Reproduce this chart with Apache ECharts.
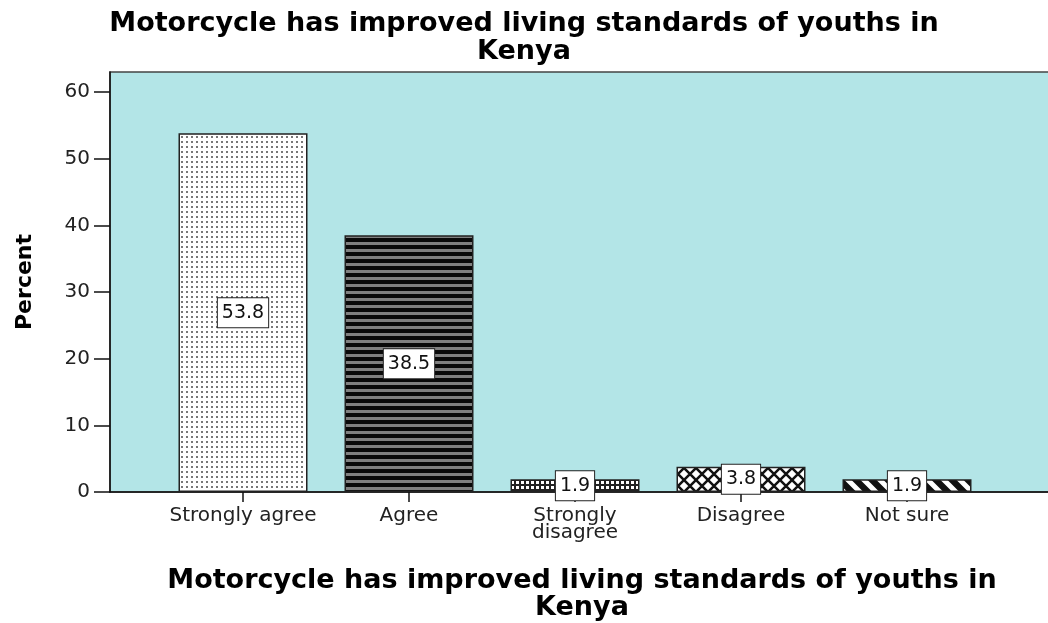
<!DOCTYPE html>
<html>
<head>
<meta charset="utf-8">
<script src="https://cdn.jsdelivr.net/npm/echarts@6/dist/echarts.min.js"></script>
<style>html,body{margin:0;padding:0;background:#fff}#c{width:1048px;height:623px}</style>
</head>
<body>
<div id="c"></div>
<script>
const titleText = 'Motorcycle has improved living standards of youths in\nKenya';
const categories = ['Strongly agree', 'Agree', 'Strongly\ndisagree', 'Disagree', 'Not sure'];
const percents = [53.8, 38.5, 1.9, 3.8, 1.9];
const yTicks = [0, 10, 20, 30, 40, 50, 60];
const yMax = 63;

function pat(w, h, draw) {
  const c = document.createElement('canvas');
  c.width = w; c.height = h;
  const ctx = c.getContext('2d');
  draw(ctx, w, h);
  return { image: c, repeat: 'repeat' };
}
const patterns = [
  pat(5, 5, (x) => { x.fillStyle = '#fff'; x.fillRect(0,0,5,5); x.fillStyle = '#777'; x.fillRect(1,1,2,2); }),
  pat(1, 7, (x) => { x.fillStyle = '#0a0a0a'; x.fillRect(0,0,1,7); x.fillStyle = '#808080'; x.fillRect(0,4,1,3); }),
  pat(5, 5, (x) => { x.fillStyle = '#222'; x.fillRect(0,0,5,5); x.fillStyle = '#fff'; x.fillRect(1,1,3,3); }),
  pat(12, 12, (x) => { x.fillStyle = '#fff'; x.fillRect(0,0,12,12); x.strokeStyle = '#111'; x.lineWidth = 2.5;
    x.beginPath(); x.moveTo(-2,-2); x.lineTo(14,14); x.moveTo(14,-2); x.lineTo(-2,14); x.stroke(); }),
  pat(16, 16, (x) => { x.fillStyle = '#111'; x.fillRect(0,0,16,16); x.strokeStyle = '#fff'; x.lineWidth = 5;
    x.beginPath(); x.moveTo(-4,-4); x.lineTo(20,20); x.moveTo(-20,-4); x.lineTo(4,20); x.moveTo(12,-4); x.lineTo(36,20); x.stroke(); })
];

const FONT = 'DejaVu Sans';
const chart = echarts.init(document.getElementById('c'), null, { renderer: 'canvas' });
chart.setOption({
  animation: false,
  title: {
    text: titleText, left: 'center', top: 5,
    textStyle: { fontFamily: FONT, fontSize: 27, fontWeight: 'bold', color: '#000', lineHeight: 28 }
  },
  grid: [
    { left: 110, right: -6, top: 72, bottom: 131, show: true, backgroundColor: '#b3e5e7', borderColor: '#444', borderWidth: 1.5, outerBoundsMode: 'none', containLabel: false },
    { left: 160, width: 830, top: 72, bottom: 131, outerBoundsMode: 'none', containLabel: false }
  ],
  xAxis: [
    { gridIndex: 0, type: 'value', min: 0, max: 1,
      axisLine: { show: true, lineStyle: { color: '#111', width: 1.5 } },
      axisTick: { show: false }, axisLabel: { show: false }, splitLine: { show: false },
      name: titleText, nameLocation: 'middle', nameGap: 75,
      nameTextStyle: { fontFamily: FONT, fontSize: 27, fontWeight: 'bold', color: '#000', lineHeight: 27 } },
    { gridIndex: 1, type: 'category', data: categories,
      axisLine: { show: false },
      axisTick: { show: true, alignWithLabel: true, length: 10, lineStyle: { color: '#111', width: 1.5 } },
      axisLabel: { fontFamily: FONT, fontSize: 20, color: '#222', margin: 15, lineHeight: 17, interval: 0 } }
  ],
  yAxis: [
    { gridIndex: 0, type: 'value', min: 0, max: yMax,
      axisLine: { show: true, lineStyle: { color: '#111', width: 1.5 } },
      axisTick: { show: true, length: 16, customValues: yTicks, lineStyle: { color: '#111', width: 1.5 } },
      axisLabel: { fontFamily: FONT, fontSize: 20, color: '#222', margin: 20, customValues: yTicks },
      splitLine: { show: false },
      name: 'Percent', nameLocation: 'middle', nameGap: 74,
      nameTextStyle: { fontFamily: FONT, fontSize: 22, fontWeight: 'bold', color: '#000' } },
    { gridIndex: 1, type: 'value', min: 0, max: yMax, show: false }
  ],
  series: [{
    type: 'bar', xAxisIndex: 1, yAxisIndex: 1, barWidth: 129,
    data: percents.map((v, i) => ({ value: v, itemStyle: { color: patterns[i] } })),
    itemStyle: { borderColor: '#222', borderWidth: 1.5 },
    label: {
      show: true, position: 'inside', formatter: (p) => p.value.toFixed(1),
      fontFamily: FONT, fontSize: 19, color: '#111',
      backgroundColor: '#fff', borderColor: '#222', borderWidth: 1, padding: [6, 4, 4, 4]
    }
  }]
});
</script>
</body>
</html>
